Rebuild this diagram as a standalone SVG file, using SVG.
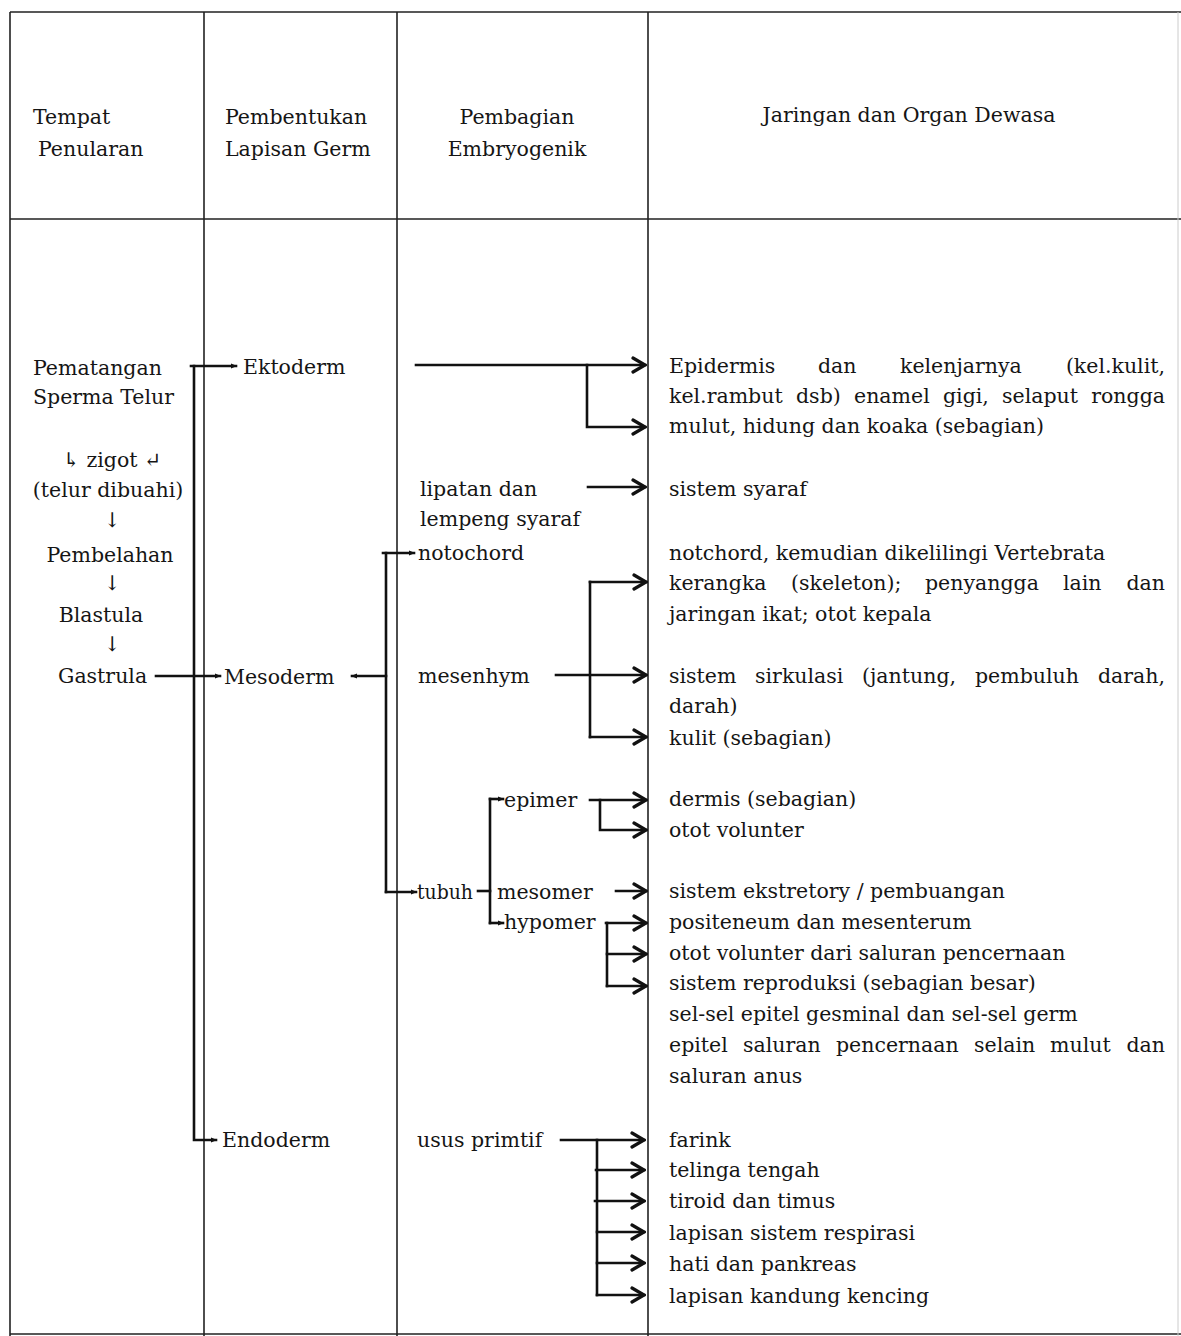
<svg xmlns="http://www.w3.org/2000/svg" width="1181" height="1336" viewBox="0 0 1181 1336">
<style>
text{font-family:"DejaVu Serif","Liberation Serif","DejaVu Sans",serif;font-size:20.5px;fill:#151515}
.mid{text-anchor:middle}
.end{text-anchor:end}
.grid{stroke:#222;stroke-width:1.6;fill:none}
.faint{stroke:#ccc;stroke-width:1;fill:none}
.con{stroke:#111;stroke-width:2.6;fill:none;stroke-linecap:square}
</style>
<defs>
<marker id="big" viewBox="0 0 16 18" refX="14" refY="9" markerWidth="16" markerHeight="18" markerUnits="userSpaceOnUse" orient="auto">
<path d="M2,2 L14,9 L2,16" fill="none" stroke="#111" stroke-width="3.2" stroke-linejoin="miter" stroke-linecap="round"/>
</marker>
<marker id="sm" viewBox="0 0 6 6" refX="5" refY="3" markerWidth="6" markerHeight="6" markerUnits="userSpaceOnUse" orient="auto">
<path d="M0,0.5 L6,3 L0,5.5 Z" fill="#111"/>
</marker>
</defs>

<g id="table">
<path class="grid" d="M10 12 H1181 M10 219 H1181 M10 12 V1336 M204 12 V1336 M397 12 V1336 M648 12 V1336 M10 1334 H1181"/>
<path class="faint" d="M1178 12 V1336"/>
</g>

<g id="headers">
<text x="33" y="124">Tempat</text>
<text x="38" y="156">Penularan</text>
<text x="225" y="124">Pembentukan</text>
<text x="225" y="156">Lapisan Germ</text>
<text class="mid" x="517" y="124">Pembagian</text>
<text class="mid" x="517" y="156">Embryogenik</text>
<text class="mid" x="909" y="122">Jaringan dan Organ Dewasa</text>
</g>

<g id="stages">
<text x="33" y="375">Pematangan</text>
<text x="33" y="404">Sperma Telur</text>
<text class="mid" x="112" y="467">↳ zigot ↵</text>
<text class="mid" x="108" y="497">(telur dibuahi)</text>
<text class="mid" x="112" y="527">↓</text>
<text class="mid" x="110" y="562">Pembelahan</text>
<text class="mid" x="112" y="590">↓</text>
<text class="mid" x="101" y="622">Blastula</text>
<text class="mid" x="112" y="651">↓</text>
<text x="58" y="683">Gastrula</text>
</g>

<g id="germ-layers">
<text id="ektoderm" x="243" y="374">Ektoderm</text>
<text id="mesoderm" x="224" y="684">Mesoderm</text>
<text id="endoderm" x="222" y="1147">Endoderm</text>
</g>

<g id="embryogenic">
<text x="420" y="496">lipatan dan</text>
<text x="420" y="526">lempeng syaraf</text>
<text x="418" y="560">notochord</text>
<text x="418" y="683">mesenhym</text>
<text x="417" y="899" textLength="56" lengthAdjust="spacingAndGlyphs">tubuh</text>
<text x="504" y="807">epimer</text>
<text x="497" y="899">mesomer</text>
<text x="504" y="929">hypomer</text>
<text x="417" y="1147">usus primtif</text>
</g>

<g id="organs">
<text y="373"><tspan x="669">Epidermis</tspan><tspan x="818">dan</tspan><tspan x="900">kelenjarnya</tspan></text>
<text class="end" x="1165" y="373">(kel.kulit,</text>
<text y="403"><tspan x="669">kel.rambut</tspan><tspan x="796">dsb)</tspan><tspan x="854">enamel</tspan><tspan x="943">gigi,</tspan><tspan x="1002">selaput</tspan></text>
<text class="end" x="1165" y="403">rongga</text>
<text x="669" y="433">mulut, hidung dan koaka (sebagian)</text>
<text x="669" y="496">sistem syaraf</text>
<text x="669" y="560">notchord, kemudian dikelilingi Vertebrata</text>
<text y="590"><tspan x="669">kerangka</tspan><tspan x="791">(skeleton);</tspan><tspan x="925">penyangga</tspan><tspan x="1063">lain</tspan></text>
<text class="end" x="1165" y="590">dan</text>
<text x="669" y="621">jaringan ikat; otot kepala</text>
<text y="683"><tspan x="669">sistem</tspan><tspan x="755">sirkulasi</tspan><tspan x="862">(jantung,</tspan><tspan x="975">pembuluh</tspan></text>
<text class="end" x="1165" y="683">darah,</text>
<text x="669" y="713">darah)</text>
<text x="669" y="745">kulit (sebagian)</text>
<text x="669" y="806">dermis (sebagian)</text>
<text x="669" y="837">otot volunter</text>
<text x="669" y="898">sistem ekstretory / pembuangan</text>
<text x="669" y="929">positeneum dan mesenterum</text>
<text x="669" y="960">otot volunter dari saluran pencernaan</text>
<text x="669" y="990">sistem reproduksi (sebagian besar)</text>
<text x="669" y="1021">sel-sel epitel gesminal dan sel-sel germ</text>
<text y="1052"><tspan x="669">epitel</tspan><tspan x="743">saluran</tspan><tspan x="836">pencernaan</tspan><tspan x="974">selain</tspan><tspan x="1050">mulut</tspan></text>
<text class="end" x="1165" y="1052">dan</text>
<text x="669" y="1083">saluran anus</text>
<text x="669" y="1147">farink</text>
<text x="669" y="1177">telinga tengah</text>
<text x="669" y="1208">tiroid dan timus</text>
<text x="669" y="1240">lapisan sistem respirasi</text>
<text x="669" y="1271">hati dan pankreas</text>
<text x="669" y="1303">lapisan kandung kencing</text>
</g>

<g id="connectors">
<path class="con" d="M194 366 V1140 H216" marker-end="url(#sm)"/>
<path class="con" d="M191 366 H236" marker-end="url(#sm)"/>
<path class="con" d="M156 676 H220" marker-end="url(#sm)"/>
<path class="con" d="M386 676 H352" marker-end="url(#sm)"/>
<path class="con" d="M386 553 V892"/>
<path class="con" d="M383 553 H414" marker-end="url(#sm)"/>
<path class="con" d="M386 892 H416" marker-end="url(#sm)"/>
<path class="con" d="M478 891 H490"/>
<path class="con" d="M490 799 V923"/>
<path class="con" d="M490 799 H503" marker-end="url(#sm)"/>
<path class="con" d="M490 923 H503" marker-end="url(#sm)"/>
<path class="con" d="M416 365 H645" marker-end="url(#big)"/>
<path class="con" d="M587 365 V427 H645" marker-end="url(#big)"/>
<path class="con" d="M588 487 H645" marker-end="url(#big)"/>
<path class="con" d="M556 675 H646" marker-end="url(#big)"/>
<path class="con" d="M590 582 V737"/>
<path class="con" d="M590 582 H646" marker-end="url(#big)"/>
<path class="con" d="M590 737 H646" marker-end="url(#big)"/>
<path class="con" d="M590 800 H646" marker-end="url(#big)"/>
<path class="con" d="M600 800 V830 H646" marker-end="url(#big)"/>
<path class="con" d="M616 891 H646" marker-end="url(#big)"/>
<path class="con" d="M606 923 H646" marker-end="url(#big)"/>
<path class="con" d="M607 923 V986"/>
<path class="con" d="M607 954 H646" marker-end="url(#big)"/>
<path class="con" d="M607 986 H646" marker-end="url(#big)"/>
<path class="con" d="M561 1140 H644" marker-end="url(#big)"/>
<path class="con" d="M597 1140 V1295"/>
<path class="con" d="M596 1170 H644" marker-end="url(#big)"/>
<path class="con" d="M595 1201 H644" marker-end="url(#big)"/>
<path class="con" d="M597 1232 H644" marker-end="url(#big)"/>
<path class="con" d="M597 1263 H644" marker-end="url(#big)"/>
<path class="con" d="M597 1295 H644" marker-end="url(#big)"/>
</g>
</svg>
